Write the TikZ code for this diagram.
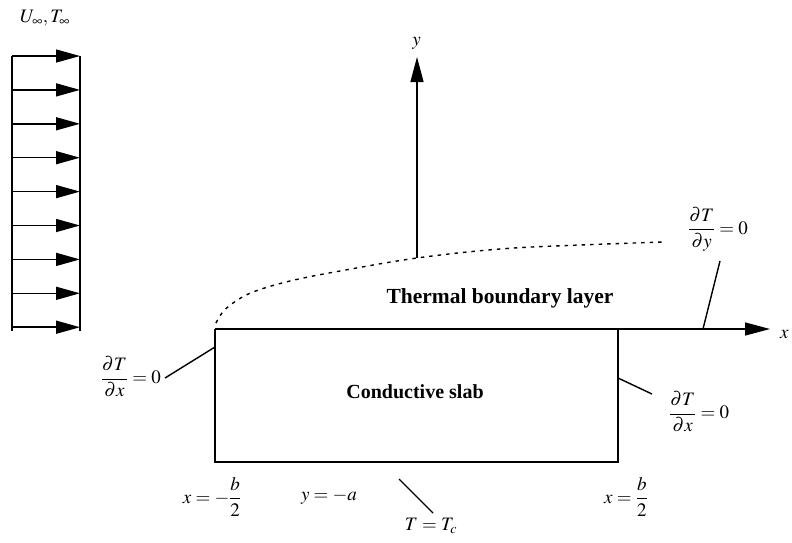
\documentclass[tikz,border=0pt]{standalone}
\usepackage{amsmath}
\usepackage{mathptmx}
\usepackage[no-math]{fontspec}
\setmainfont{Liberation Serif}
\usepackage{tikz}
\usetikzlibrary{positioning,arrows.meta}

\begin{document}
\begin{tikzpicture}[x=1pt,y=-1pt,
  axis/.style={line width=1.4pt,-{Triangle[length=25pt,width=13pt]}},
  flow/.style={line width=1.5pt,-{Triangle[length=24pt,width=13pt]}},
  lead/.style={line width=1.4pt},
  lbl/.style={font=\fontsize{19}{22}\selectfont,inner sep=0pt},
  bold/.style={font=\fontsize{21.5}{24}\selectfont\bfseries,inner sep=0pt}]
  \useasboundingbox (0,0) rectangle (792,542);
  % free stream
  \draw[line width=1.7pt] (12,56) -- (12,331) (80,56) -- (80,331);
  \foreach \k in {0,...,8}{
    \draw[flow] (12,{56+33.9*\k}) -- (80,{56+33.9*\k});
  }
  \node[lbl] (uinf) at (45,18) {$U_\infty, T_\infty$};
  % slab and axes
  \coordinate (nw) at (215,329);
  \coordinate (ne) at (618,329);
  \coordinate (sw) at (215,462);
  \coordinate (se) at (618,462);
  \coordinate (o) at (417,258);
  \draw[line width=1.6pt] (nw) -- (sw) -- (se) -- (ne);
  \draw[axis] (nw) -- (770,329) coordinate (xtip);
  \draw[axis] (o) -- (417,57) coordinate (ytip);
  \node[lbl,above left=7pt and -4pt of ytip] (ylab) {$y$};
  \node[lbl,anchor=west] (xlab) at (780,334) {$x$};
  \draw[line width=1.4pt,dash pattern=on 3.5pt off 5pt]
    plot[smooth,tension=0.6] coordinates {(216,323) (222,313) (233,303) (253,292)
      (290,281) (340,271) (417,258) (500,249) (580,245) (664,242)};
  \node[bold] (tbl) at (500,298) {Thermal boundary layer};
  \node[bold,font=\fontsize{20}{24}\selectfont\bfseries] (slab) at (415,392) {Conductive slab};
  % boundary conditions
  \node[lbl] (dTdy) at (718,229) {$\dfrac{\partial T}{\partial y}=0$};
  \coordinate (qy) at (720,261);
  \coordinate (py) at (703,329);
  \draw[lead] (qy) -- (py);
  \node[lbl,anchor=east] (dTdxl) at (161,377) {$\dfrac{\partial T}{\partial x}=0$};
  \coordinate (ql) at (165,378);
  \coordinate (pl) at (215,347);
  \draw[lead] (ql) -- (pl);
  \node[lbl,anchor=west] (dTdxr) at (669,412) {$\dfrac{\partial T}{\partial x}=0$};
  \coordinate (qr) at (652,394);
  \coordinate (pr) at (618,378);
  \draw[lead] (pr) -- (qr);
  \node[lbl] (xm) at (212,497) {$x=-\dfrac{b}{2}$};
  \node[lbl] (ya) at (329,497) {$y=-a$};
  \node[lbl] (xp) at (626,497) {$x=\dfrac{b}{2}$};
  \node[lbl] (tc) at (431,526) {$T=T_c$};
  \coordinate (qc) at (399,479);
  \coordinate (pc) at (433,513);
  \draw[lead] (qc) -- (pc);
\end{tikzpicture}
\end{document}
